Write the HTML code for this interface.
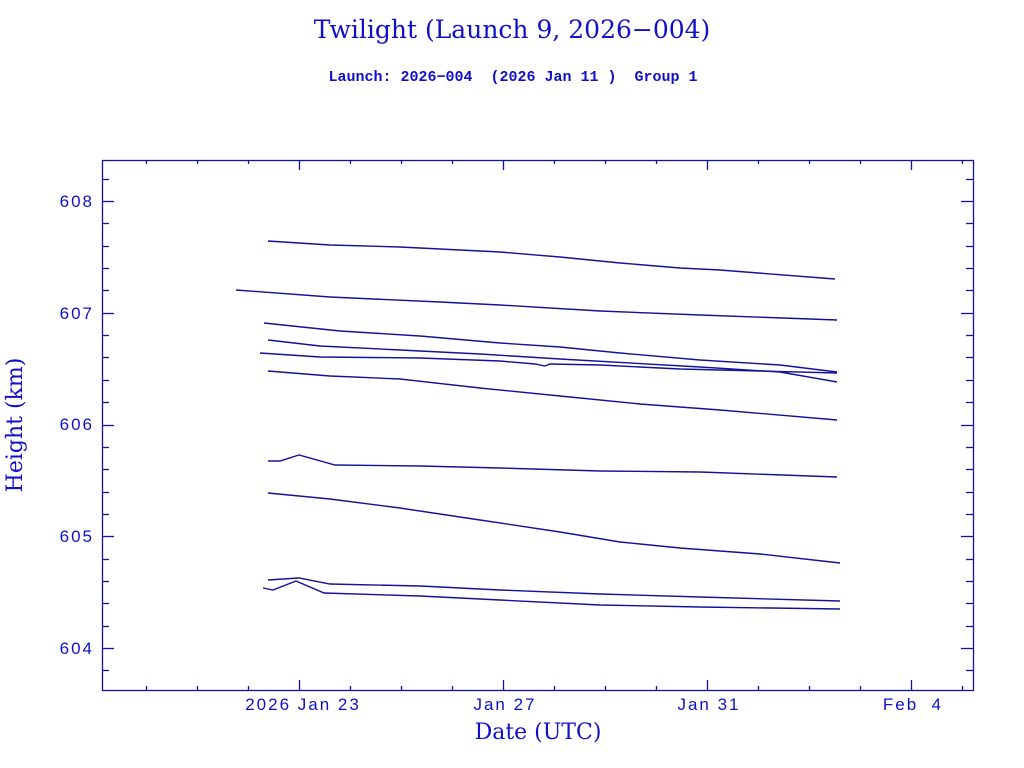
<!DOCTYPE html>
<html><head><meta charset="utf-8"><style>
html,body{margin:0;padding:0;background:#fff;}
svg{display:block;}
text{font-family:"DejaVu Serif","Liberation Serif",serif;fill:#1010c8;}
text.s{font-family:"Liberation Sans",sans-serif;letter-spacing:2px;}
text.m{font-family:"Liberation Mono",monospace;font-weight:bold;}
</style></head><body>
<svg width="1024" height="768" viewBox="0 0 1024 768" xmlns="http://www.w3.org/2000/svg">
<text x="512" y="38" font-size="25" text-anchor="middle">Twilight (Launch 9, 2026−004)</text>
<text class="m" x="513" y="81" font-size="15" text-anchor="middle" xml:space="preserve">Launch: 2026−004  (2026 Jan 11 )  Group 1</text>
<g stroke="#12129a" stroke-width="1.3" fill="none">
<rect x="102.5" y="160.5" width="871" height="530"/>
</g>
<g id="ticks" stroke="#12129a" stroke-width="1.3"></g>
<g font-size="17" text-anchor="end">
<text class="s" x="94" y="207">608</text>
<text class="s" x="94" y="319">607</text>
<text class="s" x="94" y="430">606</text>
<text class="s" x="94" y="542">605</text>
<text class="s" x="94" y="654">604</text>
</g>
<g font-size="17" text-anchor="middle">
<text class="s" x="303" y="710">2026 Jan 23</text>
<text class="s" x="505" y="710">Jan 27</text>
<text class="s" x="709" y="710">Jan 31</text>
<text class="s" x="913" y="710" xml:space="preserve">Feb  4</text>
</g>
<text x="538" y="739" font-size="22" text-anchor="middle">Date (UTC)</text>
<text transform="translate(22,425) rotate(-90)" font-size="22" text-anchor="middle">Height (km)</text>
<g stroke="#12129a" stroke-width="1.4" fill="none">
<polyline points="268,241 330,245 400,247 500,252 560,257 620,263 680,268 720,270 835,279"/>
<polyline points="236,290 330,297 440,302 500,305 600,311 700,315 837,320"/>
<polyline points="264,323 340,331 420,336 500,343 560,347 620,353 700,360 780,365 837,372"/>
<polyline points="268,340 320,346 400,350 480,354 560,359 700,367 780,372 837,382"/>
<polyline points="260,353 320,357 420,358 500,361 535,364 545,366 550,364 600,365 680,369 760,371 837,373"/>
<polyline points="268,371 330,376 400,379 480,388 560,396 640,404 720,410 837,420"/>
<polyline points="268,461 280,461 299,455 335,465 420,466 500,468 600,471 700,472 837,477"/>
<polyline points="268,493 330,499 400,508 480,520 560,532 620,542 680,548 760,554 840,563"/>
<polyline points="268,580 299,578 330,584 420,586 500,590 600,594 700,597 840,601"/>
<polyline points="263,588 273,590 296,581 324,593 420,596 500,600 600,605 700,607 840,609"/>
</g>
</svg>
<script>
(function(){
var g=document.getElementById('ticks'),s='';
function l(x1,y1,x2,y2){s+='<line x1="'+x1+'" y1="'+y1+'" x2="'+x2+'" y2="'+y2+'"/>';}
for(var k=-3;k<=23;k++){var y=201+k*111.75/5;if(y<161||y>690)continue;var maj=(k%5===0);var L=maj?12:7;y=Math.round(y)+0.5;l(102,y,102+L,y);l(973,y,973-L,y);}
for(var d=-4;d<=13;d++){var x=299+d*51;if(x<103||x>972)continue;var maj=(d%4===0);var L=maj?10:4;x=Math.round(x)+0.5;l(x,690,x,690-L);l(x,160,x,160+L);}
g.innerHTML=s;
})();
</script>
</body></html>
